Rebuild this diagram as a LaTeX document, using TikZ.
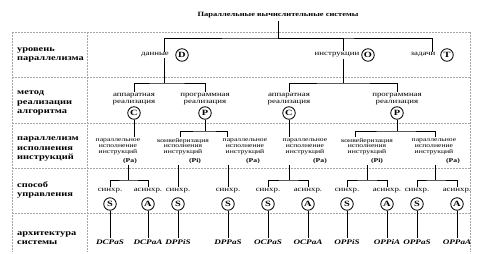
\documentclass[tikz,border=0pt]{standalone}
\usepackage{fontspec}
\setmainfont{Liberation Serif}[FakeStretch=1.3]
\usetikzlibrary{positioning}

\begin{document}
\begin{tikzpicture}[x=1pt, y=-1pt,
    grid/.style={gray!70, line width=0.5pt, dash pattern=on 2pt off 1pt},
    link/.style={line width=0.65pt},
    letter/.style={circle, draw, line width=0.8pt, inner sep=0pt, minimum size=12.5pt, font=\bfseries\fontsize{8}{8}\selectfont},
    head/.style={font=\bfseries\fontsize{6.5}{8}\selectfont},
    rowlab/.style={anchor=west, align=left, inner sep=0pt, font=\bfseries\fontsize{8}{9.5}\selectfont},
    lbl/.style={align=center, inner sep=1pt, font=\fontsize{6.8}{7.6}\selectfont},
    small/.style={align=center, inner sep=1pt, font=\fontsize{5.9}{5.9}\selectfont},
    arch/.style={inner sep=1pt, font=\bfseries\itshape\fontsize{7}{8}\selectfont}
  ]
  \useasboundingbox (0,0) rectangle (485,254);
  % table frame
  \draw[grid] (12,32) -- (470,32);
  \foreach \y in {77,123,168,213}
    \draw[grid] (12,\y) -- (470,\y);
  \foreach \x in {12,87,470}
    \draw[grid] (\x,32) -- (\x,252);

  % row captions
  \node[rowlab] (r1) at (17,55) {уровень\\параллелизма};
  \node[rowlab] (r2) at (17,103) {метод\\реализации\\алгоритма};
  \node[rowlab] (r3) at (17,149) {параллелизм\\исполнения\\инструкций};
  \node[rowlab] (r4) at (17,190) {способ\\управления};
  \node[rowlab] (r5) at (17,238) {архитектура\\системы};

  % level of parallelism
  \node[head] (title) at (278,15) {Параллельные вычислительные системы};
  \node[lbl] (dat) at (155,55) {данные};
  \node[letter] (D) at (182,55) {D};
  \node[lbl] (ins) at (337,55) {инструкции};
  \node[letter] (O) at (368,55) {O};
  \node[lbl] (tsk) at (423,55) {задачи};
  \node[letter] (T) at (447,55) {T};

  % implementation
  \node[lbl] (hwA) at (134,99) {аппаратная\\реализация};
  \node[letter] (C1) at (134,113) {C};
  \node[lbl] (swA) at (205,99) {программная\\реализация};
  \node[letter] (P1) at (205,113) {P};
  \node[lbl] (hwB) at (289,99) {аппаратная\\реализация};
  \node[letter] (C2) at (289,113) {C};
  \node[lbl] (swB) at (397,99) {программная\\реализация};
  \node[letter] (P2) at (397,113) {P};

  % instruction parallelism
  \node[small] (t1) at (118,151) {параллельное\\исполнение\\инструкций\\[3pt]\hspace*{24pt}\textbf{(Pa)}};
  \node[small] (t2) at (183,151) {конвейеризация\\исполнения\\инструкций\\[3pt]\hspace*{24pt}\textbf{(Pi)}};
  \node[small] (t3) at (245,151) {параллельное\\исполнение\\инструкций\\[3pt]\hspace*{16pt}\textbf{(Pa)}};
  \node[small] (t4) at (305,151) {параллельное\\исполнение\\инструкций\\[3pt]\hspace*{30pt}\textbf{(Pa)}};
  \node[small] (t5) at (367,151) {конвейеризация\\исполнения\\инструкций\\[3pt]\hspace*{20pt}\textbf{(Pi)}};
  \node[small] (t6) at (434,151) {параллельное\\исполнение\\инструкций\\[3pt]\hspace*{38pt}\textbf{(Pa)}};

  % control and architecture
  \foreach \x/\m/\l/\a/\n in {110/синхр./S/DCPaS/1, 148/асинхр./A/DCPaA/2,
      178/синхр./S/DPPiS/3, 228/синхр./S/DPPaS/4, 268/синхр./S/OCPaS/5,
      308/асинхр./A/OCPaA/6, 347/синхр./S/OPPiS/7, 387/асинхр./A/OPPiA/8,
      417/синхр./S/OPPaS/9, 457/асинхр./A/OPPaA/10} {
    \node[lbl] (m\n) at (\x,191) {\m};
    \node[letter] (s\n) at (\x,204) {\l};
    \node[arch] (a\n) at (\x,242) {\a};
  }

  % connectors
  \coordinate (j0) at (278,38);
  \draw[link] (title) -- (j0);
  \draw[link] ([xshift=9pt]dat.north) |- (j0) -| ([xshift=9pt]tsk.north);
  \draw[link] (j0) -| ([xshift=6pt]ins.north);

  \coordinate (jD) at (164,83);
  \draw[link] ([xshift=9pt]dat.south) -- (jD);
  \draw[link] (hwA.north) |- (jD) -| (swA.north);
  \coordinate (jO) at (343,83);
  \draw[link] ([xshift=6pt]ins.south) -- (jO);
  \draw[link] (hwB.north) |- (jO) -| (swB.north);

  \draw[link] (C1) -- (C1 |- t1.north);
  \coordinate (jP1) at (205,131);
  \draw[link] (P1) -- (jP1);
  \draw[link] ([xshift=-3pt]t2.north) |- (jP1) -| ([xshift=-18pt]t3.north);
  \draw[link] (C2) -- (C2 |- t4.north);
  \coordinate (jP2) at (397,131);
  \draw[link] (P2) -- (jP2);
  \draw[link] ([xshift=-12pt]t5.north) |- (jP2) -| ([xshift=1pt]t6.north);

  \coordinate (j1) at (128,180);
  \draw[link] (t1.south -| j1) -- (j1);
  \draw[link] (m1.north) |- (j1) -| (m2.north);
  \draw[link] (t2.south -| m3.north) -- (m3.north);
  \draw[link] (t3.south -| m4.north) -- (m4.north);
  \coordinate (j4) at (289,180);
  \draw[link] (t4.south -| j4) -- (j4);
  \draw[link] (m5.north) |- (j4) -| (m6.north);
  \coordinate (j5) at (367,180);
  \draw[link] (t5.south -| j5) -- (j5);
  \draw[link] (m7.north) |- (j5) -| (m8.north);
  \coordinate (j6) at (435,180);
  \draw[link] (t6.south -| j6) -- (j6);
  \draw[link] (m9.north) |- (j6) -| (m10.north);

  \foreach \n in {1,...,10}
    \draw[link] (s\n) -- (a\n);
\end{tikzpicture}
\end{document}
